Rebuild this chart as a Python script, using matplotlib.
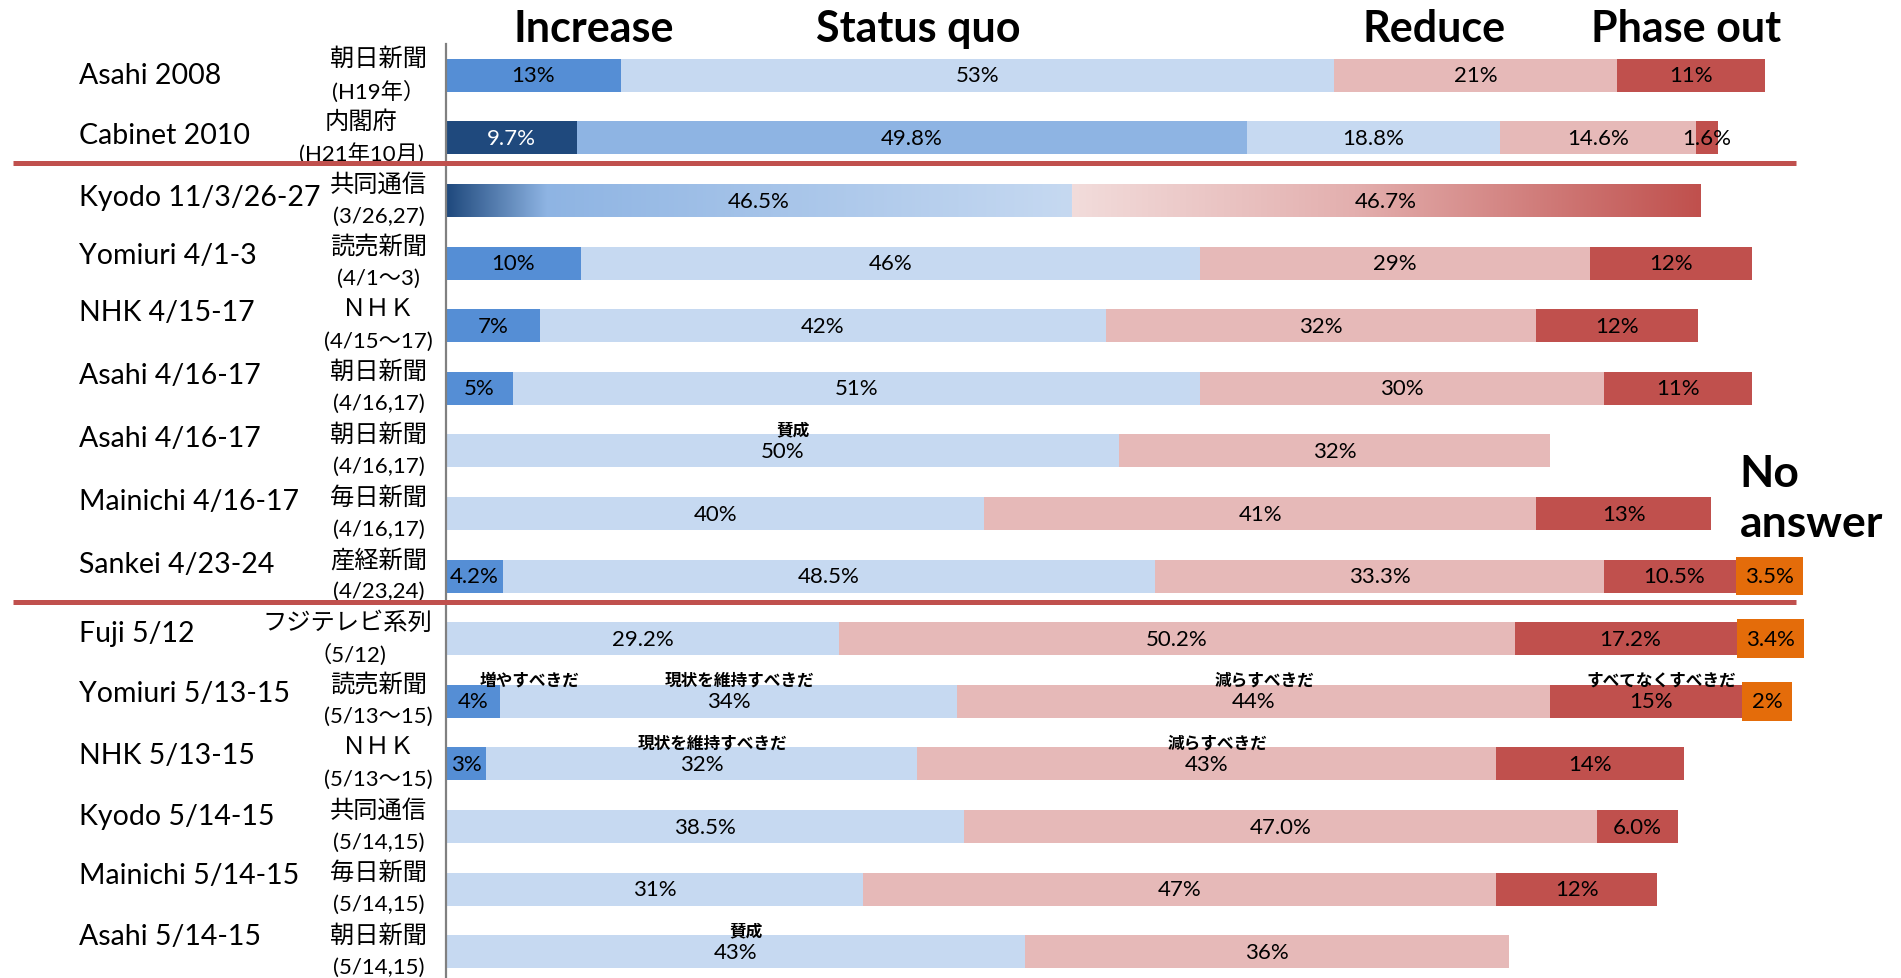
import numpy as np
import matplotlib
matplotlib.use('Agg')
import matplotlib.pyplot as plt
from matplotlib.colors import LinearSegmentedColormap

plt.rcParams['font.family'] = ['Lato', 'Noto Sans CJK JP', 'DejaVu Sans']

polls = ['Asahi 2008', 'Cabinet 2010', 'Kyodo 11/3/26-27', 'Yomiuri 4/1-3', 'NHK 4/15-17',
         'Asahi 4/16-17', 'Asahi 4/16-17', 'Mainichi 4/16-17', 'Sankei 4/23-24', 'Fuji 5/12',
         'Yomiuri 5/13-15', 'NHK 5/13-15', 'Kyodo 5/14-15', 'Mainichi 5/14-15', 'Asahi 5/14-15']
media_jp = ['朝日新聞', '内閣府', '共同通信', '読売新聞', 'ＮＨＫ', '朝日新聞', '朝日新聞', '毎日新聞',
            '産経新聞', 'フジテレビ系列', '読売新聞', 'ＮＨＫ', '共同通信', '毎日新聞', '朝日新聞']
dates_jp = ['(H19年）', '(H21年10月)', '(3/26,27)', '(4/1～3)', '(4/15～17)', '(4/16,17)',
            '(4/16,17)', '(4/16,17)', '(4/23,24)', '（5/12)', '(5/13～15)', '(5/13～15)',
            '(5/14,15)', '(5/14,15)', '(5/14,15)']

increase   = [13, 9.7, 0, 10, 7, 5, 0, 0, 4.2, 0, 4, 3, 0, 0, 0]
status_quo = [53, 49.8, 46.5, 46, 42, 51, 50, 40, 48.5, 29.2, 34, 32, 38.5, 31, 43]
undecided  = [0, 18.8, 0, 0, 0, 0, 0, 0, 0, 0, 0, 0, 0, 0, 0]
reduce     = [21, 14.6, 46.7, 29, 32, 30, 32, 41, 33.3, 50.2, 44, 43, 47.0, 47, 36]
phase_out  = [11, 1.6, 0, 12, 12, 11, 0, 13, 10.5, 17.2, 15, 14, 6.0, 12, 0]
no_answer  = [0, 0, 0, 0, 0, 0, 0, 0, 3.5, 3.4, 2, 0, 0, 0, 0]
decimals   = [0, 1, 1, 0, 0, 0, 0, 0, 1, 1, 0, 0, 1, 0, 0]

headers = ['Increase', 'Status quo', 'Reduce', 'Phase out']
header_x = [11.0, 35.1, 73.4, 92.1]

# answer wording printed over some segments: (row, series index, text)
answer_notes = [(6, 1, '賛成'), (10, 0, '増やすべきだ'), (10, 1, '現状を維持すべきだ'),
                (10, 3, '減らすべきだ'), (10, 4, 'すべてなくすべきだ'),
                (11, 1, '現状を維持すべきだ'), (11, 3, '減らすべきだ'), (14, 1, '賛成')]

series = [increase, status_quo, undecided, reduce, phase_out]
colors = ['#558ED5', '#C6D9F1', '#C6D9F1', '#E6B9B8', '#C0504D']
GRAD_ROW = 2   # Kyodo 3/26-27 drawn with gradients
CAB_ROW = 1
grad_maps = {
    1: LinearSegmentedColormap.from_list('blu', [(0, '#1F497D'), (0.16, '#8EB4E3'), (1, '#C6D9F1')]),
    3: LinearSegmentedColormap.from_list('red', [(0, '#F2DCDB'), (0.45, '#E3AFAE'), (1, '#C0504D')]),
}

W, H = 1901, 979
fig = plt.figure(figsize=(W / 100, H / 100), dpi=100)
ax = fig.add_axes([446 / W, 0, 1 - 446 / W, 1 - 45 / H])

n = len(polls)
y = np.arange(n)
bh = 0.53
left = np.zeros(n)
for k, vals in enumerate(series):
    vals = np.array(vals, dtype=float)
    cols = [colors[k]] * n
    if k == 0:
        cols[CAB_ROW] = '#1F497D'
    if k == 1:
        cols[CAB_ROW] = '#8EB4E3'
    bars = ax.barh(y, vals, left=left, height=bh, color=cols, linewidth=0, zorder=2)
    for i, b in enumerate(bars):
        if vals[i] == 0:
            continue
        if i == GRAD_ROW and k in grad_maps:
            b.set_facecolor('none')
            im = ax.imshow(np.linspace(0, 1, 256)[None, :], cmap=grad_maps[k], aspect='auto',
                           interpolation='bilinear', zorder=2,
                           extent=(left[i], left[i] + vals[i], y[i] + bh / 2, y[i] - bh / 2))
            im.set_clip_path(b)
        tc = 'white' if (i == CAB_ROW and k == 0) else 'black'
        ax.text(left[i] + vals[i] / 2, y[i], f'{vals[i]:.{decimals[i]}f}%', ha='center',
                va='center', fontsize=16, color=tc, zorder=4)
    left += vals

# no answer boxes
for i, v in enumerate(no_answer):
    if v:
        ax.text(left[i], y[i], f'{v:g}%', ha='left', va='center', fontsize=16, zorder=5,
                bbox=dict(boxstyle='square,pad=0.42', fc='#E46C0A', ec='none'))

for r, k, t in answer_notes:
    x0 = sum(series[j][r] for j in range(k))
    if k == 0:
        ax.text(x0 + 2.5, r - 0.34, t, ha='left', va='center', fontsize=12, fontweight='bold', zorder=5)
    else:
        ax.text(x0 + series[k][r] / 2 + 0.8, r - 0.34, t, ha='center', va='center', fontsize=12,
                fontweight='bold', zorder=5)

# row labels
label_dy = np.array([0, -2, -3, -7, -11, -11, -11, -10, -10, -5, -7, -7, -9, -12, -13]) / 51.6
jp_x = [-5.0] * n
jp_x[CAB_ROW] = -6.3
jp_x[9] = -7.3
for i in range(n):
    ax.text(-27.3, y[i] + label_dy[i], polls[i], ha='left', va='center', fontsize=20.5)
    ax.text(jp_x[i], y[i] - 0.28, media_jp[i], ha='center', va='center', fontsize=17.5)
    ax.text(jp_x[i], y[i] + 0.24, dates_jp[i], ha='center', va='center', fontsize=16)

for t, hx in zip(headers, header_x):
    ax.text(hx, -0.75, t, ha='center', va='center', fontsize=31, fontweight='bold')
ax.text(96.1, 6.75, 'No\nanswer', ha='left', va='center', fontsize=32, fontweight='bold',
        linespacing=1.3)

# red separators
for sy in [1.40, 8.41]:
    ax.plot([-32.2, 100.3], [sy, sy], color='#C0504D', lw=3.6, clip_on=False, zorder=6,
            solid_capstyle='butt')

ax.set_xlim(0, 1455 / 13.46)
ax.set_ylim(14.42, -0.5)
for s in ['top', 'right', 'bottom']:
    ax.spines[s].set_visible(False)
ax.spines['left'].set_color('#808080')
ax.spines['left'].set_linewidth(1.6)
ax.set_xticks([])
ax.set_yticks([])

plt.savefig('out.png', dpi=100)
